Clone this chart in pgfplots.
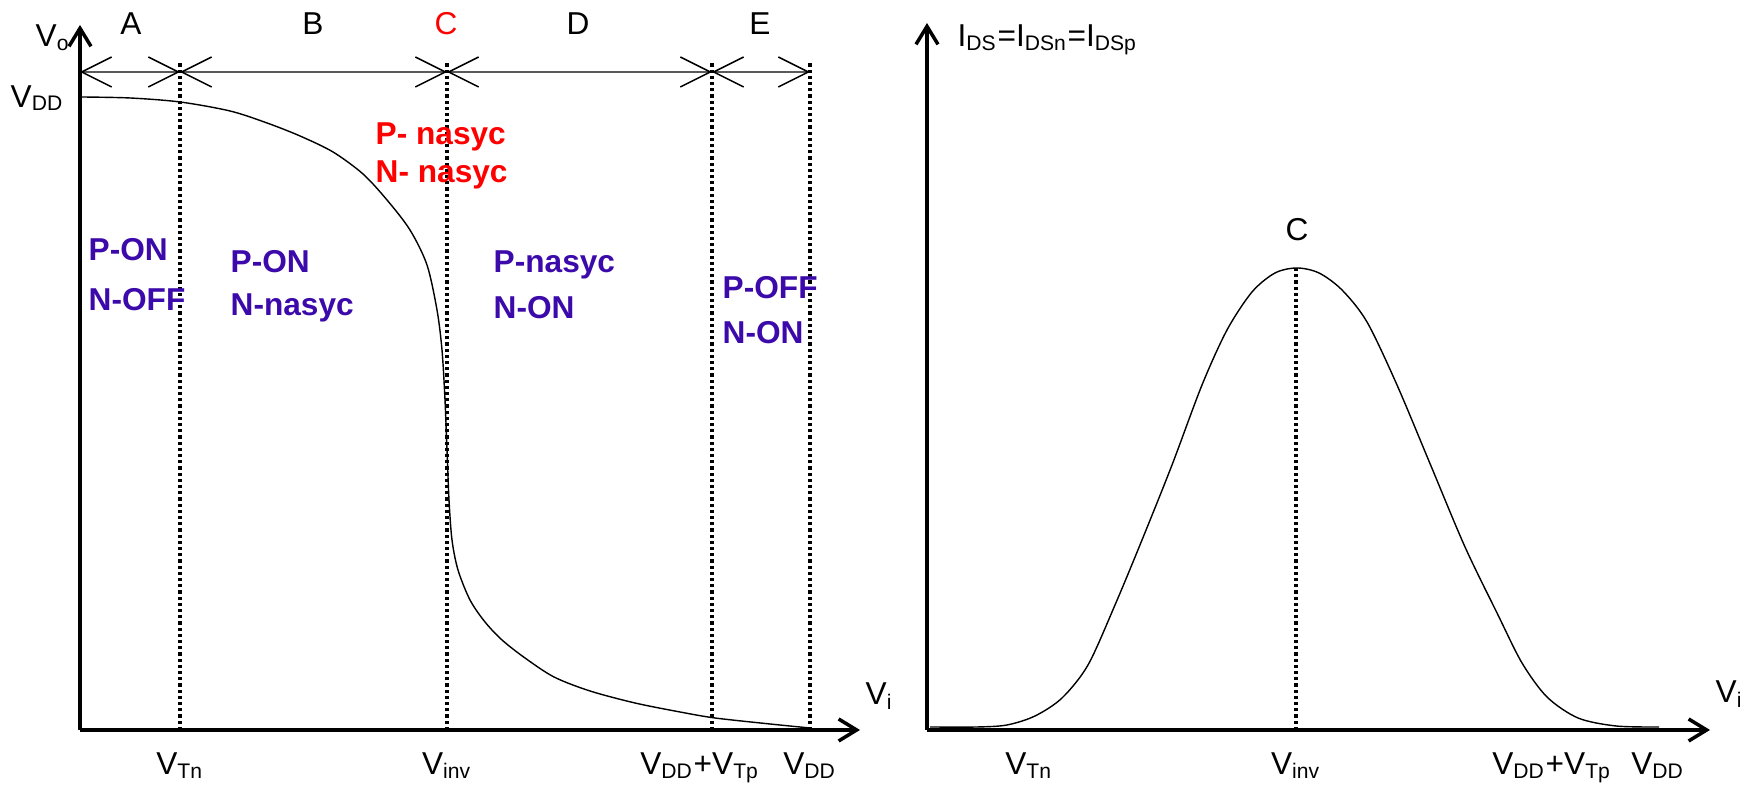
\documentclass[border=0pt]{standalone}
\usepackage{fontspec}
\setmainfont{Liberation Sans}
\usepackage{pgfplots}
\pgfplotsset{compat=1.18}
\usetikzlibrary{arrows.meta}

\definecolor{regpurple}{RGB}{60,10,170}
\definecolor{bracketgray}{RGB}{90,90,90}

\pgfplotsset{
  vplot/.style={
    x=0.1mm, y=0.1mm, xmin=0, ymin=0,
    axis lines=left,
    axis line style={line width=1pt, -{Straight Barb[length=1.8mm,width=2.2mm]}},
    ytick=\empty,
    major tick length=0pt,
    xticklabel style={anchor=north, inner sep=0pt, yshift=-2.2mm,
      font=\fontsize{9}{11}\selectfont},
    clip=false,
    anchor=south west,
  },
}
\tikzset{
  lbl/.style={font=\fontsize{9}{11}\selectfont, inner sep=0pt},
  reg/.style={font=\fontsize{9}{11}\selectfont\bfseries, text=regpurple, anchor=west, inner sep=0pt},
  vdot/.style={line width=0.38mm, dash pattern=on 0.32mm off 0.3mm},
  barb/.style={bracketgray, line width=0.15mm,
    {Straight Barb[length=3mm,width=3mm,color=black]}-{Straight Barb[length=3mm,width=3mm,color=black]}},
}

\begin{document}
\begin{tikzpicture}
\path[use as bounding box] (0,0) rectangle (174mm,78.6mm);

% transfer characteristic
\begin{axis}[vplot, at={(8mm,5.6mm)}, xmax=780, ymax=705,
  xtick={100,367,620,730},
  xticklabels={V\textsubscript{Tn}, V\textsubscript{inv}, V\textsubscript{DD}+V\textsubscript{Tp}, V\textsubscript{DD}}]
\addplot[black, line width=0.4pt, smooth] coordinates {
  (0,633) (50,632) (100,628) (150,619) (187,607) (220,594) (253,578)
  (283,556) (307,530) (330,500) (347,465) (357,420) (362,380) (365,330)
  (367,280) (369,230) (372,190) (378,160) (390,130) (405,108) (422,90)
  (445,72) (474,53) (510,39) (555,27) (600,18) (635,12) (690,6) (730,2)
};
\addplot[vdot] coordinates {(100,0) (100,668)};
\addplot[vdot] coordinates {(367,0) (367,668)};
\addplot[vdot] coordinates {(632,0) (632,668)};
\addplot[vdot] coordinates {(730,0) (730,668)};
\draw[barb] (0,658) -- (100,658);
\draw[barb] (100,658) -- (367,658);
\draw[barb] (367,658) -- (632,658);
\draw[barb] (632,658) -- (730,658);
\node[lbl] at (51,706) {A};
\node[lbl] at (233,706) {B};
\node[lbl, text=red] at (366,706) {C};
\node[lbl] at (498,706) {D};
\node[lbl] at (680,706) {E};
\node[lbl, anchor=west] at (-45,692) {V\textsubscript{o}};
\node[lbl, anchor=west] at (-70,632) {V\textsubscript{DD}};
\node[lbl, anchor=west] at (785,34) {V\textsubscript{i}};
\node[reg] at (8,480) {P-ON};
\node[reg] at (8,430) {N-OFF};
\node[reg] at (150,468) {P-ON};
\node[reg] at (150,422) {N-nasyc};
\node[reg, text=red] at (295,593) {P- nasyc};
\node[reg, text=red] at (295,555) {N- nasyc};
\node[reg] at (413,465) {P-nasyc};
\node[reg] at (413,422) {N-ON};
\node[reg] at (642,442) {P-OFF};
\node[reg] at (642,397) {N-ON};
\end{axis}

% drain current
\begin{axis}[vplot, at={(92.7mm,5.6mm)}, xmax=783, ymax=707,
  xtick={102,369,625,731},
  xticklabels={V\textsubscript{Tn}, V\textsubscript{inv}, V\textsubscript{DD}+V\textsubscript{Tp}, V\textsubscript{DD}}]
\addplot[black, line width=0.4pt, smooth] coordinates {
  (3,3) (50,3) (80,5) (108,14) (135,32) (161,65) (188,125) (215,190)
  (245,265) (275,345) (300,400) (325,438) (348,457) (370,462) (392,457)
  (415,440) (440,408) (470,345) (504,264) (538,183) (571,115) (595,67)
  (620,33) (651,12) (689,4) (732,3)
};
\addplot[vdot] coordinates {(369,0) (369,462)};
\node[lbl] at (370,500) {C};
\node[lbl, anchor=west] at (30,690) {I\textsubscript{DS}=I\textsubscript{DSn}=I\textsubscript{DSp}};
\node[lbl, anchor=west] at (788,36) {V\textsubscript{i}};
\end{axis}
\end{tikzpicture}
\end{document}
